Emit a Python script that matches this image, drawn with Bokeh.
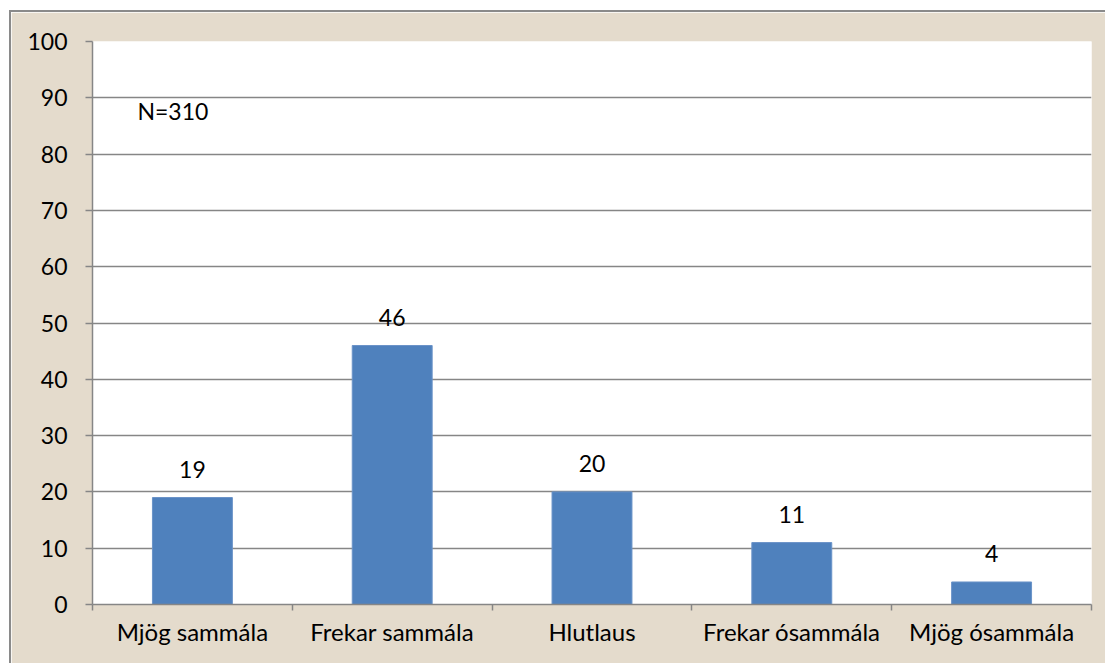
from bokeh.plotting import figure
from bokeh.models import FixedTicker, Range1d, ColumnDataSource
from bokeh.core.properties import value
from bokeh.embed import file_html
from bokeh.resources import INLINE

categories = ["Mjög sammála", "Frekar sammála", "Hlutlaus", "Frekar ósammála", "Mjög ósammála"]
values = [19, 46, 20, 11, 4]
y_ticks = [0, 10, 20, 30, 40, 50, 60, 70, 80, 90, 100]
note = "N=310"

FONT = "Lato"
FS = "23px"
BG = "#E4DBCC"
GRID = "#868686"

n = len(categories)
centers = [i + 0.5 for i in range(n)]

p = figure(width=1096, height=653, output_backend="svg", toolbar_location=None,
           x_range=Range1d(0, n), y_range=Range1d(0, 100),
           min_border_left=81, min_border_right=16, min_border_top=29, min_border_bottom=61,
           background_fill_color="white", border_fill_color=BG)
p.margin = (10, 0, 0, 9)
p.styles = {"border-left": "2px solid #8a8a8a", "border-top": "2px solid #8a8a8a"}
p.outline_line_color = None

src = ColumnDataSource(dict(x=centers, top=values, lab=[str(v) for v in values]))
p.vbar(x="x", top="top", width=0.4, source=src, fill_color="#4F81BD", line_color="#6A93C8", line_width=1)
p.text(x="x", y="top", text="lab", source=src, text_align="center", text_baseline="middle",
       y_offset=-28, text_font=value(FONT), text_font_size=FS, text_color="black")
p.text(x=[0.225], y=[87.7], text=[note], text_align="left", text_baseline="middle",
       text_font=value(FONT), text_font_size=FS, text_color="black")

# y axis
p.yaxis.ticker = FixedTicker(ticks=y_ticks)
p.yaxis.axis_line_color = GRID
p.yaxis.axis_line_width = 1.5
p.yaxis.major_tick_line_color = GRID
p.yaxis.major_tick_line_width = 1.5
p.yaxis.major_tick_out = 7
p.yaxis.major_tick_in = 0
p.yaxis.minor_tick_line_color = None
p.yaxis.major_label_standoff = 18
p.yaxis.major_label_text_font = FONT
p.yaxis.major_label_text_font_size = FS
p.yaxis.major_label_text_color = "black"

p.ygrid.ticker = FixedTicker(ticks=y_ticks)
p.ygrid.grid_line_color = GRID
p.ygrid.grid_line_width = 1.5
p.xgrid.grid_line_color = None

# x axis: labels at centers, ticks at boundaries
p.xaxis.ticker = FixedTicker(ticks=centers, minor_ticks=list(range(n + 1)))
p.xaxis.major_label_overrides = {c: lab for c, lab in zip(centers, categories)}
p.xaxis.axis_line_color = GRID
p.xaxis.axis_line_width = 1.5
p.xaxis.major_tick_line_color = None
p.xaxis.minor_tick_line_color = GRID
p.xaxis.minor_tick_line_width = 1.5
p.xaxis.minor_tick_out = 6
p.xaxis.minor_tick_in = 0
p.xaxis.major_label_standoff = 6
p.xaxis.major_label_text_font = FONT
p.xaxis.major_label_text_font_size = "24px"
p.xaxis.major_label_text_color = "black"

open("out.html", "w").write(file_html(p, INLINE))
